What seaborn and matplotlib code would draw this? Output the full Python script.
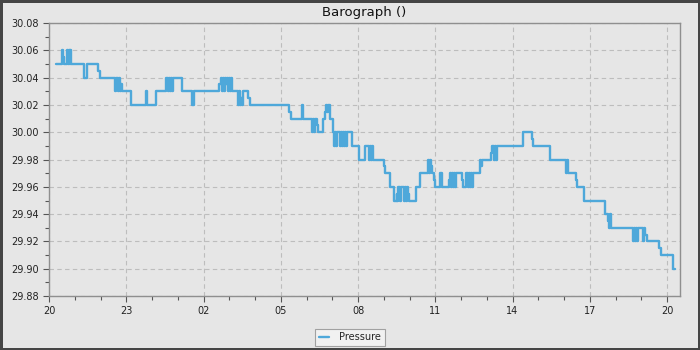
import matplotlib

matplotlib.use("Agg")
import matplotlib.pyplot as plt
import pandas as pd
import seaborn as sns
from matplotlib.patches import Rectangle
from matplotlib.ticker import FormatStrFormatter, MultipleLocator

# time in days after the first tick (the 20th), pressure readings (inHg)
days = [
    0.27, 0.52, 0.56, 0.58, 0.70, 0.74, 0.77, 0.80, 0.83, 0.87,
    1.37, 1.46, 1.92, 1.98, 2.56, 2.62, 2.66, 2.70, 2.74, 2.78,
    2.83, 3.17, 3.20, 3.76, 3.80, 4.14, 4.17, 4.53, 4.63, 4.67,
    4.71, 4.75, 4.79, 4.83, 5.15, 5.56, 5.62, 6.61, 6.66, 6.70,
    6.74, 6.78, 6.82, 6.86, 6.90, 6.94, 6.98, 7.02, 7.06, 7.09,
    7.35, 7.39, 7.43, 7.47, 7.51, 7.55, 7.74, 7.81, 9.33, 9.40,
    9.81, 9.85, 10.22, 10.26, 10.29, 10.33, 10.40, 10.43, 10.65, 10.71,
    10.74, 10.80, 10.83, 10.91, 11.02, 11.07, 11.11, 11.14, 11.17, 11.30,
    11.34, 11.38, 11.42, 11.46, 11.50, 11.54, 11.57, 11.78, 12.04, 12.27,
    12.42, 12.46, 12.50, 12.54, 12.58, 13.01, 13.05, 13.24, 13.40, 13.50,
    13.53, 13.57, 13.61, 13.65, 13.79, 13.83, 13.87, 13.91, 13.94, 13.98,
    14.25, 14.41, 14.72, 14.76, 14.79, 14.83, 14.86, 14.95, 15.00, 15.18,
    15.27, 15.55, 15.58, 15.62, 15.66, 15.70, 15.74, 15.78, 15.82, 16.05,
    16.09, 16.21, 16.25, 16.29, 16.33, 16.37, 16.41, 16.45, 16.75, 16.78,
    16.82, 17.17, 17.22, 17.26, 17.30, 17.34, 17.38, 18.42, 18.74, 18.80,
    19.46, 20.07, 20.11, 20.15, 20.47, 20.52, 20.78, 21.57, 21.72, 21.75,
    21.79, 21.83, 22.69, 22.73, 22.77, 22.81, 22.85, 22.87, 23.08, 23.12,
    23.16, 23.21, 23.70, 23.76, 24.22, 24.29,
]
pressure = [
    30.05, 30.06, 30.055, 30.05, 30.06, 30.05, 30.06, 30.05, 30.06, 30.05,
    30.04, 30.05, 30.045, 30.04, 30.03, 30.04, 30.03, 30.04, 30.03, 30.035,
    30.03, 30.025, 30.02, 30.03, 30.02, 30.025, 30.03, 30.04, 30.03, 30.04,
    30.03, 30.04, 30.03, 30.04, 30.03, 30.02, 30.03, 30.035, 30.04, 30.03,
    30.04, 30.03, 30.04, 30.035, 30.04, 30.03, 30.04, 30.03, 30.04, 30.03,
    30.02, 30.03, 30.02, 30.025, 30.02, 30.03, 30.025, 30.02, 30.015, 30.01,
    30.02, 30.01, 30.00, 30.01, 30.00, 30.01, 30.005, 30.00, 30.01, 30.015,
    30.02, 30.015, 30.02, 30.01, 30.00, 29.99, 30.00, 29.99, 30.00, 29.99,
    30.00, 29.99, 30.00, 29.99, 30.00, 29.99, 30.00, 29.99, 29.98, 29.99,
    29.98, 29.99, 29.98, 29.99, 29.98, 29.975, 29.97, 29.96, 29.95, 29.955,
    29.95, 29.96, 29.95, 29.96, 29.95, 29.96, 29.95, 29.96, 29.955, 29.95,
    29.96, 29.97, 29.98, 29.97, 29.98, 29.975, 29.97, 29.965, 29.96, 29.97,
    29.96, 29.965, 29.97, 29.96, 29.97, 29.96, 29.97, 29.96, 29.97, 29.965,
    29.96, 29.97, 29.96, 29.97, 29.96, 29.97, 29.96, 29.97, 29.98, 29.975,
    29.98, 29.985, 29.99, 29.98, 29.99, 29.98, 29.99, 30.00, 29.995, 29.99,
    29.98, 29.97, 29.98, 29.97, 29.965, 29.96, 29.95, 29.94, 29.935, 29.93,
    29.94, 29.93, 29.92, 29.93, 29.92, 29.93, 29.92, 29.93, 29.92, 29.93,
    29.925, 29.92, 29.915, 29.91, 29.90, 29.90,
]
tick_days = [0, 3, 6, 9, 12, 15, 18, 21, 24]
tick_labels = ["20", "23", "02", "05", "08", "11", "14", "17", "20"]

BG = "#e6e6e6"
LINE = "#4ea8da"

sns.set_style("white", {"axes.facecolor": BG, "figure.facecolor": BG})
plt.rcParams["font.family"] = ["DejaVu Sans"]

df = pd.DataFrame({"day": days, "pressure": pressure})

fig = plt.figure(figsize=(7, 3.5), dpi=100)
ax = fig.add_axes([0.07, 0.154, 0.9014, 0.7803])

sns.lineplot(
    data=df, x="day", y="pressure", ax=ax, color=LINE, linewidth=1.7,
    drawstyle="steps-post", estimator=None, sort=False, label="Pressure",
)

ax.set_xlim(0, 24.5)
ax.set_ylim(29.88, 30.08)
ax.set_xticks(tick_days)
ax.set_xticklabels(tick_labels)
ax.xaxis.set_minor_locator(MultipleLocator(1))
ax.yaxis.set_major_locator(MultipleLocator(0.02))
ax.yaxis.set_minor_locator(MultipleLocator(0.01))
ax.yaxis.set_major_formatter(FormatStrFormatter("%.2f"))
ax.set_xlabel("")
ax.set_ylabel("")

ax.grid(True, which="major", color="#bdbdbd", linestyle=(0, (4, 3)), linewidth=0.8)
ax.set_axisbelow(True)
for side in ax.spines.values():
    side.set_color("#8f8f8f")
    side.set_linewidth(1.0)

ax.tick_params(which="major", direction="out", length=4, width=0.8, color="#555555",
               labelsize=7, labelcolor="#222222", pad=3, bottom=True, left=True)
ax.tick_params(which="minor", direction="out", length=3, width=0.8, color="#555555",
               bottom=True, left=True)

ax.set_title("Barograph ()", fontsize=9.5, color="#111111", pad=5)

# legend sits under the plot, centred on the figure
handles, labels = ax.get_legend_handles_labels()
ax.get_legend().remove()
leg = fig.legend(handles, labels, loc="center", bbox_to_anchor=(0.5, 0.036),
                 fontsize=7, frameon=True, fancybox=False, handlelength=1.0,
                 borderpad=0.4, handletextpad=1.0, borderaxespad=0)
leg.get_frame().set_facecolor("#f4f4f4")
leg.get_frame().set_edgecolor("#8f8f8f")
leg.get_frame().set_linewidth(0.8)

fig.patches.append(Rectangle((0, 0), 1, 1, transform=fig.transFigure, fill=False,
                             edgecolor="#454545", linewidth=3.6, clip_on=False))

fig.savefig("out.png", dpi=100, facecolor=BG)
